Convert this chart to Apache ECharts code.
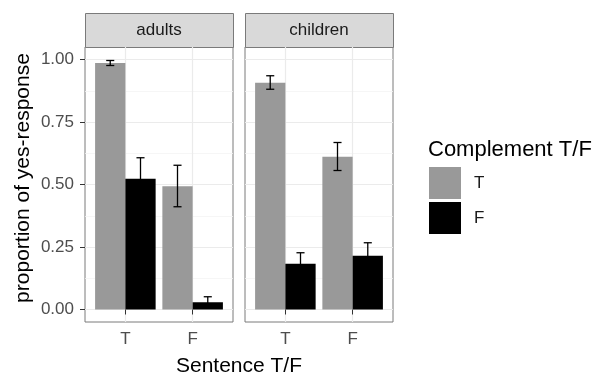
<!DOCTYPE html>
<html>
<head>
<meta charset="utf-8">
<script src="https://cdn.jsdelivr.net/npm/echarts@6/dist/echarts.min.js"></script>
<style>
    html, body { margin: 0; padding: 0; background: #fff; }
    #chart { width: 597px; height: 374px; }
</style>
</head>
<body>
<div id="chart"></div>
<script>
const facets = ['adults', 'children'];
const sentence = ['T', 'F'];
const complement = ['T', 'F'];
const yTicks = [0, 0.25, 0.5, 0.75, 1];
const yMinor = [0.125, 0.375, 0.625, 0.875];

// mean proportion of yes-responses, by sentence T/F
const adultsT = [0.986, 0.493];
const adultsF = [0.523, 0.029];
const childrenT = [0.907, 0.611];
const childrenF = [0.183, 0.215];

// error bar limits
const adultsTLow = [0.976, 0.411];
const adultsTHigh = [0.996, 0.577];
const adultsFLow = [0.440, 0.007];
const adultsFHigh = [0.607, 0.051];
const childrenTLow = [0.881, 0.556];
const childrenTHigh = [0.935, 0.668];
const childrenFLow = [0.140, 0.163];
const childrenFHigh = [0.227, 0.267];

const means = [[adultsT, adultsF], [childrenT, childrenF]];
const lows = [[adultsTLow, adultsFLow], [childrenTLow, childrenFLow]];
const highs = [[adultsTHigh, adultsFHigh], [childrenTHigh, childrenFHigh]];

const colors = ['#999999', '#000000'];
const font = 'Liberation Sans, Arial, Helvetica, sans-serif';
const panelLeft = [85, 245];
const panelTop = 47;
const panelW = 148;
const panelH = 275;
const dodge = [-0.225, 0.225];
const barHalf = 0.225;
const capHalf = 0.06;

function renderBar (offset) {
    return function (params, api) {
        let x = api.value(0) + offset;
        let p0 = api.coord([x - barHalf, api.value(1)]);
        let p1 = api.coord([x + barHalf, 0]);
        return {
            type: 'rect',
            shape: { x: p0[0], y: p0[1], width: p1[0] - p0[0], height: p1[1] - p0[1] },
            style: { fill: api.visual('color') }
        };
    };
}

function renderErr (offset) {
    return function (params, api) {
        let x = api.value(0) + offset;
        let lo = api.coord([x, api.value(1)]);
        let hi = api.coord([x, api.value(2)]);
        let l = api.coord([x - capHalf, api.value(1)])[0];
        let r = api.coord([x + capHalf, api.value(1)])[0];
        let st = { stroke: '#000', lineWidth: 1.3 };
        return {
            type: 'group',
            children: [
                { type: 'line', shape: { x1: lo[0], y1: lo[1], x2: hi[0], y2: hi[1] }, style: st },
                { type: 'line', shape: { x1: l, y1: lo[1], x2: r, y2: lo[1] }, style: st },
                { type: 'line', shape: { x1: l, y1: hi[1], x2: r, y2: hi[1] }, style: st }
            ]
        };
    };
}

let grids = [], xAxes = [], yAxes = [], series = [], graphics = [];
facets.forEach(function (f, fi) {
    grids.push({
        left: panelLeft[fi], top: panelTop, width: panelW, height: panelH,
        show: true, backgroundColor: '#fff', borderColor: '#7a7a7a', borderWidth: 1
    });
    xAxes.push({
        type: 'value', gridIndex: fi, min: 0.4, max: 2.6,
        axisLine: { show: false },
        axisTick: { customValues: [1, 2], length: 5, lineStyle: { color: '#333', width: 1 } },
        axisLabel: {
            customValues: [1, 2], margin: 9, fontSize: 17, color: '#4d4d4d', fontFamily: font,
            formatter: function (v) { return sentence[Math.round(v) - 1]; }
        },
        splitLine: { show: true, lineStyle: { color: '#ebebeb', width: 1.2 } }
    });
    yAxes.push({
        type: 'value', gridIndex: fi, min: -0.05, max: 1.05, position: 'left',
        axisLine: { show: false },
        axisTick: { show: fi === 0, customValues: yTicks, length: 5, lineStyle: { color: '#333', width: 1 } },
        axisLabel: {
            show: fi === 0, customValues: yTicks, margin: 11, fontSize: 17, color: '#4d4d4d', fontFamily: font,
            formatter: function (v) { return v.toFixed(2); }
        },
        splitLine: { show: true, lineStyle: { color: '#ebebeb', width: 1.2 } }
    });
    yAxes.push({
        type: 'value', gridIndex: fi, min: -0.05, max: 1.05, position: 'left',
        axisLine: { show: false },
        axisTick: { show: false, customValues: yMinor },
        axisLabel: { show: false, customValues: yMinor },
        splitLine: { show: true, lineStyle: { color: '#f4f4f4', width: 0.8 } }
    });
    complement.forEach(function (c, ci) {
        series.push({
            name: c, type: 'custom', xAxisIndex: fi, yAxisIndex: fi * 2,
            itemStyle: { color: colors[ci] },
            renderItem: renderBar(dodge[ci]),
            encode: { x: 0, y: 1 },
            data: sentence.map(function (s, i) { return [i + 1, means[fi][ci][i]]; }),
            z: 2
        });
    });
    complement.forEach(function (c, ci) {
        series.push({
            name: 'err ' + c, type: 'custom', xAxisIndex: fi, yAxisIndex: fi * 2,
            renderItem: renderErr(dodge[ci]),
            encode: { x: 0, y: [1, 2] },
            data: sentence.map(function (s, i) { return [i + 1, lows[fi][ci][i], highs[fi][ci][i]]; }),
            z: 3
        });
    });
    graphics.push({
        type: 'rect',
        shape: { x: panelLeft[fi] + 0.5, y: 13.5, width: panelW, height: 34 },
        style: { fill: '#d9d9d9', stroke: '#7a7a7a', lineWidth: 1 }
    });
    graphics.push({
        type: 'text', x: panelLeft[fi] + panelW / 2, y: 30,
        style: { text: f, fill: '#1a1a1a', font: '17px ' + font, align: 'center', verticalAlign: 'middle' }
    });
});

// axis titles and legend title
graphics.push({
    type: 'text', x: 239, y: 366,
    style: { text: 'Sentence T/F', fill: '#000', font: '21px ' + font, align: 'center', verticalAlign: 'middle' }
});
graphics.push({
    type: 'text', x: 23, y: 178, rotation: Math.PI / 2,
    style: { text: 'proportion of yes-response', fill: '#000', font: '21px ' + font, align: 'center', verticalAlign: 'middle' }
});
graphics.push({
    type: 'text', x: 428, y: 150,
    style: { text: 'Complement T/F', fill: '#000', font: '22px ' + font, align: 'left', verticalAlign: 'middle' }
});

let myChart = echarts.init(document.getElementById('chart'));
myChart.setOption({
    animation: false,
    grid: grids,
    xAxis: xAxes,
    yAxis: yAxes,
    legend: {
        data: complement.map(function (c) { return { name: c, icon: 'rect' }; }),
        orient: 'vertical', left: 429, top: 167, padding: 0,
        itemWidth: 32, itemHeight: 32, itemGap: 3,
        textStyle: { fontSize: 17, color: '#1a1a1a', fontFamily: font, padding: [0, 0, 0, 8] }
    },
    graphic: graphics,
    series: series
});
</script>
</body>
</html>
